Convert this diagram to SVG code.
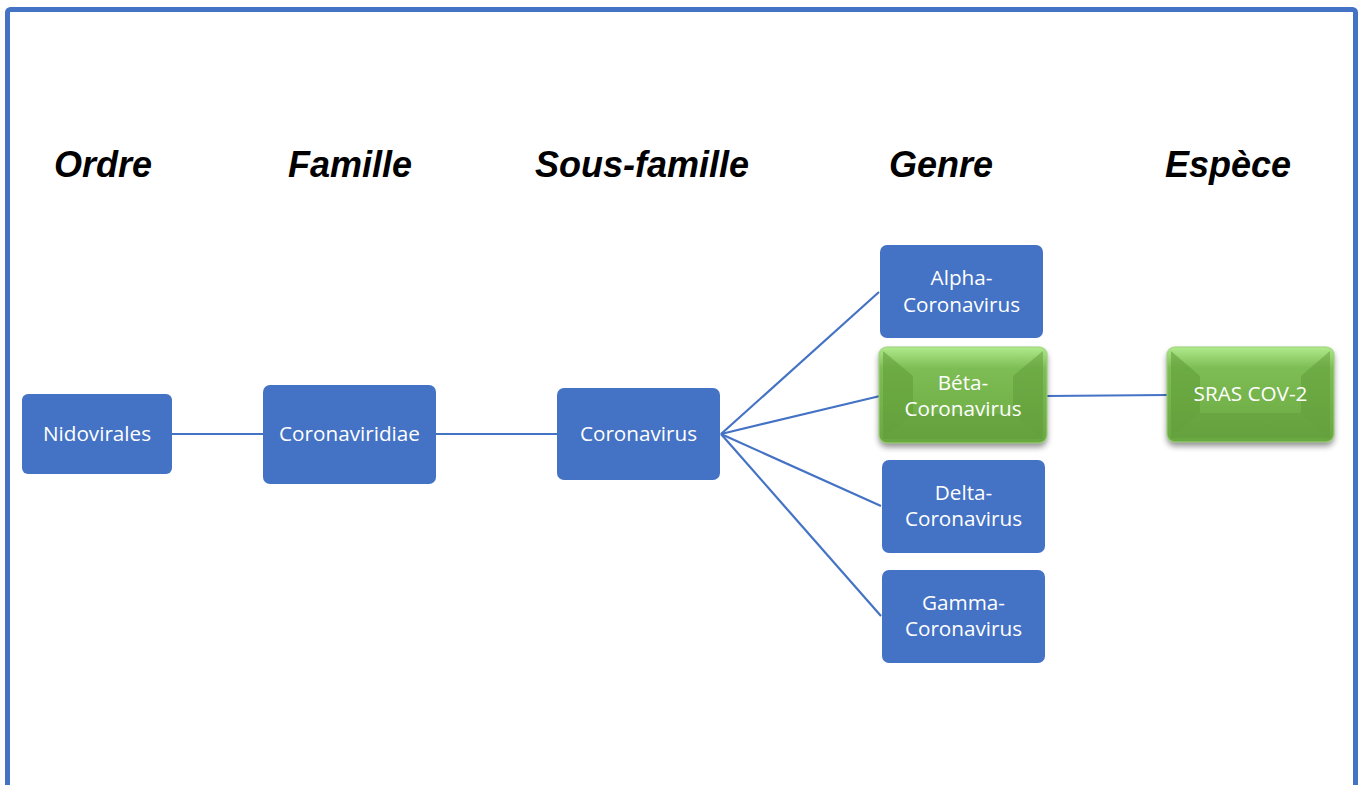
<svg xmlns="http://www.w3.org/2000/svg" width="1363" height="785" viewBox="0 0 1363 785">
<style>
.hdr{font-family:"Liberation Sans",Arial,sans-serif;font-weight:bold;font-style:italic;font-size:36px;fill:#000;text-anchor:middle}
.box{fill:#4472C4}
.lbl{font-family:"Open Sans","Noto Sans",sans-serif;font-size:20.7px;fill:#fff;text-anchor:middle}
.con{stroke:#4472C4;stroke-width:2.2;fill:none}
</style>
<defs>
<linearGradient id="gg" x1="0" y1="0" x2="0" y2="1">
<stop offset="0" stop-color="#b0ea8c"/>
<stop offset="0.22" stop-color="#7dbd54"/>
<stop offset="1" stop-color="#6aa842"/>
</linearGradient>
<filter id="sh" x="-10%" y="-10%" width="120%" height="130%">
<feGaussianBlur in="SourceAlpha" stdDeviation="3"/>
<feOffset dy="4"/>
<feComponentTransfer><feFuncA type="linear" slope="0.45"/></feComponentTransfer>
<feMerge><feMergeNode/><feMergeNode in="SourceGraphic"/></feMerge>
</filter>
</defs>
<rect x="0" y="0" width="1363" height="785" fill="#fff"/>
<rect x="7.5" y="9.5" width="1348" height="800" rx="3" fill="none" stroke="#4472C4" stroke-width="5"/>
<g id="headers">
<text class="hdr" x="103" y="177">Ordre</text>
<text class="hdr" x="350" y="177">Famille</text>
<text class="hdr" x="642" y="177">Sous-famille</text>
<text class="hdr" x="941" y="177">Genre</text>
<text class="hdr" x="1228" y="177">Espèce</text>
</g>
<g id="connectors">
<line class="con" x1="172" y1="434" x2="263" y2="434"/>
<line class="con" x1="436" y1="434" x2="557" y2="434"/>
<line class="con" x1="721" y1="434" x2="879" y2="292"/>
<line class="con" x1="721" y1="434" x2="880" y2="396"/>
<line class="con" x1="721" y1="434" x2="881" y2="506"/>
<line class="con" x1="721" y1="434" x2="881" y2="616"/>
<line class="con" x1="1047" y1="396" x2="1167" y2="395"/>
</g>
<g id="n-nidovirales">
<rect class="box" x="22" y="394" width="150" height="80" rx="6"/>
<text class="lbl" x="97" y="441">Nidovirales</text>
</g>
<g id="n-coronaviridiae">
<rect class="box" x="263" y="385" width="173" height="99" rx="7"/>
<text class="lbl" x="349.5" y="441">Coronaviridiae</text>
</g>
<g id="n-coronavirus">
<rect class="box" x="557" y="388" width="163" height="92" rx="7"/>
<text class="lbl" x="638.5" y="441">Coronavirus</text>
</g>
<g id="n-alpha">
<rect class="box" x="880" y="245" width="163" height="93" rx="7"/>
<text class="lbl" x="961.5" y="285">Alpha-</text>
<text class="lbl" x="961.5" y="312">Coronavirus</text>
</g>
<g id="n-beta">
<g filter="url(#sh)">
<rect x="879" y="347" width="168" height="96" rx="8" fill="url(#gg)"/>
</g>
<polygon points="883,351 913,376 913,414 883,439" fill="#5e9a37" opacity="0.55"/>
<polygon points="1043,351 1013,376 1013,414 1043,439" fill="#5e9a37" opacity="0.5"/>
<polygon points="883,439 913,414 1013,414 1043,439" fill="#5c9635" opacity="0.35"/>
<rect x="879" y="347" width="168" height="96" rx="8" fill="none" stroke="#9ed27a" stroke-width="1.5" opacity="0.7"/>
<text class="lbl" x="963" y="390">Béta-</text>
<text class="lbl" x="963" y="416">Coronavirus</text>
</g>
<g id="n-delta">
<rect class="box" x="882" y="460" width="163" height="93" rx="7"/>
<text class="lbl" x="963.5" y="500">Delta-</text>
<text class="lbl" x="963.5" y="526">Coronavirus</text>
</g>
<g id="n-gamma">
<rect class="box" x="882" y="570" width="163" height="93" rx="7"/>
<text class="lbl" x="963.5" y="610">Gamma-</text>
<text class="lbl" x="963.5" y="636">Coronavirus</text>
</g>
<g id="n-sras">
<g filter="url(#sh)">
<rect x="1167" y="347" width="167" height="95" rx="8" fill="url(#gg)"/>
</g>
<polygon points="1171,351 1200,376 1200,413 1171,438" fill="#5e9a37" opacity="0.55"/>
<polygon points="1330,351 1301,376 1301,413 1330,438" fill="#5e9a37" opacity="0.5"/>
<polygon points="1171,438 1200,413 1301,413 1330,438" fill="#5c9635" opacity="0.35"/>
<rect x="1167" y="347" width="167" height="95" rx="8" fill="none" stroke="#9ed27a" stroke-width="1.5" opacity="0.7"/>
<text class="lbl" x="1250.5" y="401">SRAS COV-2</text>
</g>
</svg>
